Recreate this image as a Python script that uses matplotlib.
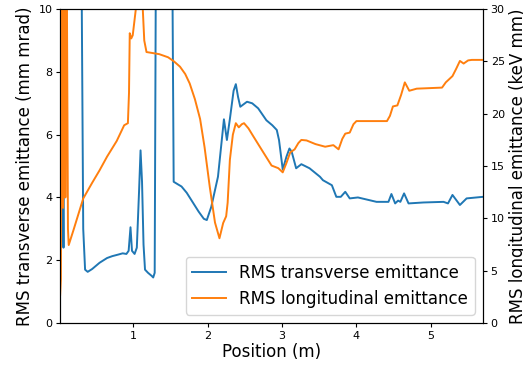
import matplotlib
matplotlib.use("Agg")
import matplotlib.pyplot as plt
import numpy as np

# transverse emittance (mm mrad) along the beamline
pos_t = [0.02, 0.035, 0.05, 0.065, 0.09, 0.30, 0.33, 0.355, 0.39, 0.45, 0.55,
         0.65, 0.72, 0.80, 0.86, 0.91, 0.94, 0.965, 0.985, 1.02, 1.05, 1.08,
         1.10, 1.12, 1.14, 1.16, 1.20, 1.25, 1.27, 1.29, 1.31, 1.52, 1.545,
         1.60, 1.65, 1.72, 1.80, 1.88, 1.95, 1.99, 2.05, 2.14, 2.19, 2.22,
         2.26, 2.30, 2.35, 2.38, 2.41, 2.44, 2.53, 2.60, 2.68, 2.79, 2.87,
         2.93, 2.96, 3.01, 3.06, 3.10, 3.13, 3.19, 3.26, 3.37, 3.51, 3.55,
         3.67, 3.73, 3.79, 3.85, 3.91, 4.02, 4.27, 4.43, 4.47, 4.52, 4.56,
         4.59, 4.64, 4.70, 4.90, 5.17, 5.23, 5.29, 5.39, 5.48, 5.70]
emit_t = [2.55, 2.6, 5.9, 2.4, 14.0, 14.0, 3.0, 1.7, 1.63, 1.72, 1.92,
          2.07, 2.13, 2.18, 2.22, 2.2, 2.3, 3.05, 2.3, 2.2, 2.4, 4.2,
          5.5, 4.5, 2.5, 1.7, 1.6, 1.5, 1.45, 1.6, 14.0, 14.0, 4.5,
          4.42, 4.35, 4.15, 3.85, 3.55, 3.32, 3.28, 3.7, 4.66, 5.8, 6.49,
          5.83, 6.5, 7.4, 7.61, 7.2, 6.89, 7.05, 7.0, 6.84, 6.46, 6.3,
          6.15, 5.83, 4.89, 5.3, 5.56, 5.46, 4.93, 5.06, 4.93, 4.66, 4.55,
          4.39, 4.02, 4.02, 4.18, 3.97, 4.0, 3.86, 3.86, 4.11, 3.81, 3.9,
          3.86, 4.13, 3.81, 3.84, 3.86, 3.81, 4.08, 3.76, 3.97, 4.02]

# longitudinal emittance (keV mm)
pos_l = [0.02, 0.03, 0.045, 0.06, 0.075, 0.09, 0.105, 0.125, 0.135, 0.20,
         0.33, 0.45, 0.55, 0.65, 0.78, 0.86, 0.88, 0.93, 0.945, 0.955, 0.975,
         0.995, 1.02, 1.045, 1.09, 1.13, 1.15, 1.18, 1.35, 1.47, 1.55, 1.63,
         1.70, 1.76, 1.83, 1.90, 1.96, 2.03, 2.10, 2.16, 2.21, 2.25, 2.27,
         2.30, 2.34, 2.38, 2.42, 2.46, 2.49, 2.55, 2.61, 2.68, 2.75, 2.86,
         2.95, 3.01, 3.06, 3.11, 3.17, 3.22, 3.26, 3.33, 3.45, 3.58, 3.69,
         3.76, 3.81, 3.85, 3.91, 3.96, 4.00, 4.16, 4.41, 4.45, 4.49, 4.55,
         4.60, 4.65, 4.71, 4.81, 5.15, 5.20, 5.23, 5.29, 5.34, 5.39, 5.44,
         5.50, 5.55, 5.70]
emit_l = [2.7, 4.2, 40.0, 11.0, 40.0, 12.0, 40.0, 9.0, 7.45, 8.9,
          11.9, 13.4, 14.6, 15.9, 17.4, 18.6, 18.9, 19.1, 22.0, 27.7, 27.2,
          27.5, 29.0, 30.5, 33.0, 30.0, 27.0, 25.9, 25.7, 25.4, 25.0, 24.5,
          23.8, 22.9, 21.4, 19.5, 16.8, 13.0, 9.6, 8.1, 9.56, 10.2, 11.5,
          15.6, 18.0, 19.1, 18.7, 19.0, 19.1, 18.6, 17.9, 17.1, 16.3, 15.05,
          14.8, 14.4, 15.3, 16.3, 16.6, 17.2, 17.5, 17.45, 17.1, 16.85, 17.0,
          16.6, 17.6, 18.1, 18.2, 19.0, 19.3, 19.3, 19.3, 19.8, 20.7, 20.8,
          21.8, 23.0, 22.2, 22.4, 22.5, 23.0, 23.2, 23.6, 24.3, 25.05, 24.8,
          25.1, 25.15, 25.15]

fig = plt.figure(figsize=(5.23, 3.66), dpi=100)
ax = fig.add_subplot(111)
fig.subplots_adjust(left=0.115, right=0.9235, top=0.975, bottom=0.1175)

line_t, = ax.plot(pos_t, emit_t, color="C0", lw=1.4,
                  label="RMS transverse emittance")
ax.set_xlim(pos_t[0], pos_t[-1])
ax.set_ylim(0, 10)
ax.set_xticks([1, 2, 3, 4, 5])
ax.set_yticks(np.arange(0, 11, 2))
ax.tick_params(labelsize=8, length=3, pad=2.5)
ax.set_xlabel("Position (m)", fontsize=12, labelpad=2)
ax.set_ylabel("RMS transverse emittance (mm mrad)", fontsize=12, labelpad=3)

ax2 = ax.twinx()
line_l, = ax2.plot(pos_l, emit_l, color="C1", lw=1.4,
                   label="RMS longitudinal emittance")
ax2.set_ylim(0, 30)
ax2.set_yticks(np.arange(0, 31, 5))
ax2.tick_params(labelsize=8, length=3, pad=2.5)
ax2.set_ylabel("RMS longitudinal emittance (keV mm)", fontsize=12, labelpad=3)

ax2.legend(handles=[line_t, line_l], loc="lower right", fontsize=12)

fig.savefig("out.png", dpi=100)
